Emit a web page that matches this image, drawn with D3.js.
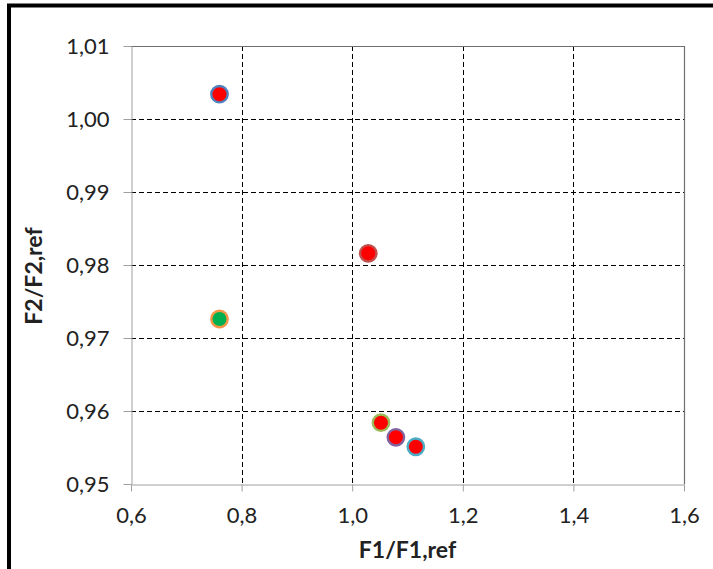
<!DOCTYPE html>
<html>
<head>
<meta charset="utf-8">
<script src="https://cdn.jsdelivr.net/npm/d3@7"></script>
<style>
  html, body { margin: 0; padding: 0; background: #fff; }
  svg { display: block; }
  text { font-family: Lato, "Open Sans", "Liberation Sans", sans-serif; }
</style>
</head>
<body>
<svg id="chart" width="713" height="569"></svg>
<script>
// ---- data ----
const xValues = [0.76, 1.029, 0.76, 1.052, 1.079, 1.115];
const yValues = [1.0034, 0.9816, 0.9726, 0.9584, 0.9564, 0.9551];
const fillColors = ["#ff0000", "#ff0000", "#00b050", "#ff0000", "#ff0000", "#ff0000"];
const strokeColors = ["#4f81bd", "#c0504d", "#f79646", "#9bbb59", "#8064a2", "#4bacc6"];
const xTicks = [0.6, 0.8, 1.0, 1.2, 1.4, 1.6];
const yTicks = [0.95, 0.96, 0.97, 0.98, 0.99, 1.00, 1.01];
const xTitle = "F1/F1,ref";
const yTitle = "F2/F2,ref";

const svg = d3.select("#chart");
const W = 713, H = 569;
const plot = { left: 131, top: 46, right: 684, bottom: 484 };

// outer frame
svg.append("rect")
  .attr("x", 9).attr("y", 5.5)
  .attr("width", W + 20).attr("height", H + 20)
  .attr("fill", "none").attr("stroke", "#000").attr("stroke-width", 4);

const x = d3.scaleLinear().domain([0.6, 1.6]).range([plot.left, plot.right]);
const y = d3.scaleLinear().domain([0.95, 1.01]).range([plot.bottom, plot.top]);

const fmtX = d => d3.format(".1f")(d).replace(".", ",");
const fmtY = d => d3.format(".2f")(d).replace(".", ",");

// gridlines
const grid = svg.append("g");
grid.selectAll("line.gx")
  .data(xTicks.filter(t => t > 0.6 + 1e-9 && t < 1.6 - 1e-9))
  .join("line")
  .attr("x1", d => Math.round(x(d)) + 0.5).attr("x2", d => Math.round(x(d)) + 0.5)
  .attr("y1", plot.top).attr("y2", plot.bottom)
  .attr("stroke", "#000").attr("stroke-width", 1).attr("stroke-dasharray", "5,3");
grid.selectAll("line.gy")
  .data(yTicks.filter(t => t > 0.95 + 1e-9 && t < 1.01 - 1e-9))
  .join("line")
  .attr("y1", d => Math.round(y(d)) + 0.5).attr("y2", d => Math.round(y(d)) + 0.5)
  .attr("x1", plot.left).attr("x2", plot.right)
  .attr("stroke", "#000").attr("stroke-width", 1).attr("stroke-dasharray", "5,3");

// plot border (top / right)
svg.append("path")
  .attr("d", `M${plot.left},${plot.top + 0.5}H${plot.right + 0.5}V${plot.bottom}`)
  .attr("fill", "none").attr("stroke", "#6f6f6f").attr("stroke-width", 1.2);

// axes
const xAxis = d3.axisBottom(x).tickValues(xTicks).tickFormat(fmtX).tickSize(7).tickSizeOuter(0).tickPadding(16);
const yAxis = d3.axisLeft(y).tickValues(yTicks).tickFormat(fmtY).tickSize(8).tickSizeOuter(0).tickPadding(14);

const gx = svg.append("g").attr("transform", `translate(0,${plot.bottom + 0.5})`).call(xAxis);
const gy = svg.append("g").attr("transform", `translate(${plot.left + 0.5},0)`).call(yAxis);
[gx, gy].forEach(g => {
  g.select(".domain").attr("stroke", "#a0a0a0").attr("stroke-width", 1);
  g.selectAll(".tick line").attr("stroke", "#a0a0a0");
  g.selectAll(".tick text").attr("fill", "#222").attr("font-size", 22)
    .attr("font-family", "Lato, 'Open Sans', sans-serif");
});

// titles
svg.append("text")
  .attr("x", (plot.left + plot.right) / 2).attr("y", 558)
  .attr("text-anchor", "middle").attr("font-size", 23).attr("font-weight", "bold")
  .attr("fill", "#222").text(xTitle);
svg.append("text")
  .attr("transform", `translate(42,276) rotate(-90)`)
  .attr("text-anchor", "middle").attr("font-size", 23).attr("font-weight", "bold")
  .attr("fill", "#222").text(yTitle);

// points
const pts = xValues.map((v, i) => ({ x: v, y: yValues[i], fill: fillColors[i], stroke: strokeColors[i] }));
svg.append("g").selectAll("circle")
  .data(pts)
  .join("circle")
  .attr("cx", d => x(d.x)).attr("cy", d => y(d.y))
  .attr("r", 8.2)
  .attr("fill", d => d.fill)
  .attr("stroke", d => d.stroke).attr("stroke-width", 2.4);
</script>
</body>
</html>
